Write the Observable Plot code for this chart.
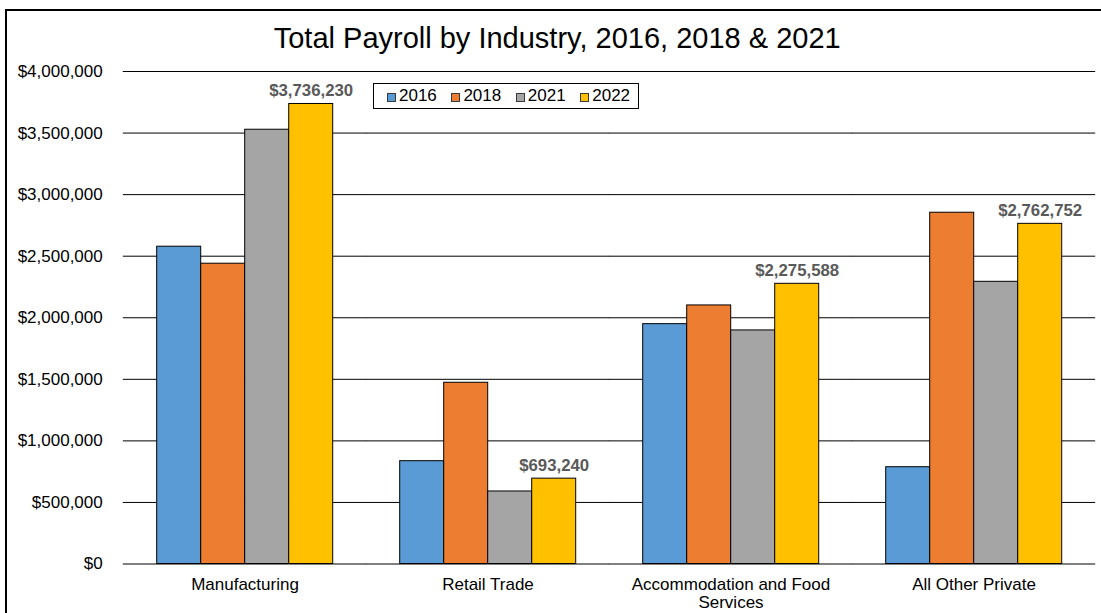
<!DOCTYPE html>
<html>
<head>
<meta charset="utf-8">
<script src="https://cdn.jsdelivr.net/npm/d3@7"></script>
<script src="https://cdn.jsdelivr.net/npm/@observablehq/plot@0.6"></script>
<style>
  html, body { margin: 0; padding: 0; overflow: hidden; background: #fff; }
  body { width: 1101px; height: 613px; position: relative; font-family: "Liberation Sans", Arial, sans-serif; }
  #frame { position: absolute; left: 5px; top: 9px; width: 1200px; height: 700px; border: 2px solid #000; box-sizing: border-box; }
  #chart { position: absolute; left: 0; top: 0; }
  #title { position: absolute; left: 0; width: 1114.4px; top: 23.8px; text-align: center; font-size: 29px; line-height: 1; color: #000; white-space: nowrap; }
  #legend { position: absolute; left: 372.7px; top: 83.3px; width: 266.6px; height: 26px; border: 1px solid #000; box-sizing: border-box; background: #fff;
            display: flex; align-items: center; padding-left: 13px; gap: 14.3px; font-size: 17px; color: #000; }
  .item { display: flex; align-items: center; }
  .sw { width: 9.3px; height: 9.3px; border: 1px solid #3a3a3a; box-sizing: border-box; margin-right: 3px; margin-top: 2px; }
</style>
</head>
<body>
<div id="frame"></div>
<div id="chart"></div>
<div id="title">Total Payroll by Industry, 2016, 2018 &amp; 2021</div>
<div id="legend"></div>
<script>
const industries = ["Manufacturing", "Retail Trade", "Accommodation and Food Services", "All Other Private"];
const industryLabels = ["Manufacturing", "Retail Trade", "Accommodation and Food\nServices", "All Other Private"];
const years = ["2016", "2018", "2021", "2022"];
const v2016 = [2577000, 835000, 1948000, 786000];
const v2018 = [2439000, 1472000, 2100000, 2853000];
const v2021 = [3527000, 589000, 1897000, 2292000];
const v2022 = [3736230, 693240, 2275588, 2762752];
const labelledYear = "2022";
const colors = ["#5B9BD5", "#ED7D31", "#A5A5A5", "#FFC000"];
const yTicks = [0, 500000, 1000000, 1500000, 2000000, 2500000, 3000000, 3500000, 4000000];

const series = [v2016, v2018, v2021, v2022];
const data = [];
industries.forEach((ind, i) => {
  years.forEach((yr, j) => data.push({industry: ind, year: yr, value: series[j][i]}));
});
const labelData = data.filter(d => d.year === labelledYear);

const W = 1101, H = 613;
const mL = 122.3, mR = 5.3, mT = 71, mB = 49.5;
const padInner = 0.2726, padOuter = 0.1363;
const step = (W - mL - mR) / (industries.length - padInner + 2 * padOuter);
const gap = step * padInner / 2;

const money = d3.format("$,");

const chart = Plot.plot({
  width: W, height: H,
  marginLeft: mL, marginRight: mR, marginTop: mT, marginBottom: mB,
  style: {fontFamily: '"Liberation Sans", Arial, sans-serif', color: "#000", background: "transparent"},
  fx: {domain: industries, paddingInner: padInner, paddingOuter: padOuter, axis: null, label: null},
  x: {domain: years, padding: 0, axis: null, label: null},
  y: {domain: [0, 4000000], axis: null, label: null},
  color: {domain: years, range: colors},
  marks: [
    Plot.ruleY(yTicks, {stroke: "#000", strokeWidth: 1, insetLeft: -gap, insetRight: -gap}),
    Plot.barY(data, {fx: "industry", x: "year", y: "value", fill: "year", stroke: "#000", strokeWidth: 1, inset: 0}),
    Plot.text(labelData, {fx: "industry", x: "year", y: "value", text: d => money(d.value),
      lineAnchor: "bottom", dy: -8, fontSize: 16.8, fontWeight: "bold", fill: "#595959"}),
    Plot.axisY({ticks: yTicks, tickFormat: money, tickSize: 0, tickPadding: 20.6 + gap, fontSize: 17, label: null}),
    Plot.axisFx({anchor: "bottom", tickSize: 0, tickPadding: 14, fontSize: 17, lineHeight: 1.02, label: null,
      tickFormat: d => industryLabels[industries.indexOf(d)]})
  ]
});
document.getElementById("chart").appendChild(chart);

const legend = document.getElementById("legend");
years.forEach((yr, j) => {
  const it = document.createElement("div");
  it.className = "item";
  const sw = document.createElement("div");
  sw.className = "sw";
  sw.style.background = colors[j];
  const tx = document.createElement("span");
  tx.textContent = yr;
  it.appendChild(sw); it.appendChild(tx);
  legend.appendChild(it);
});
</script>
</body>
</html>
